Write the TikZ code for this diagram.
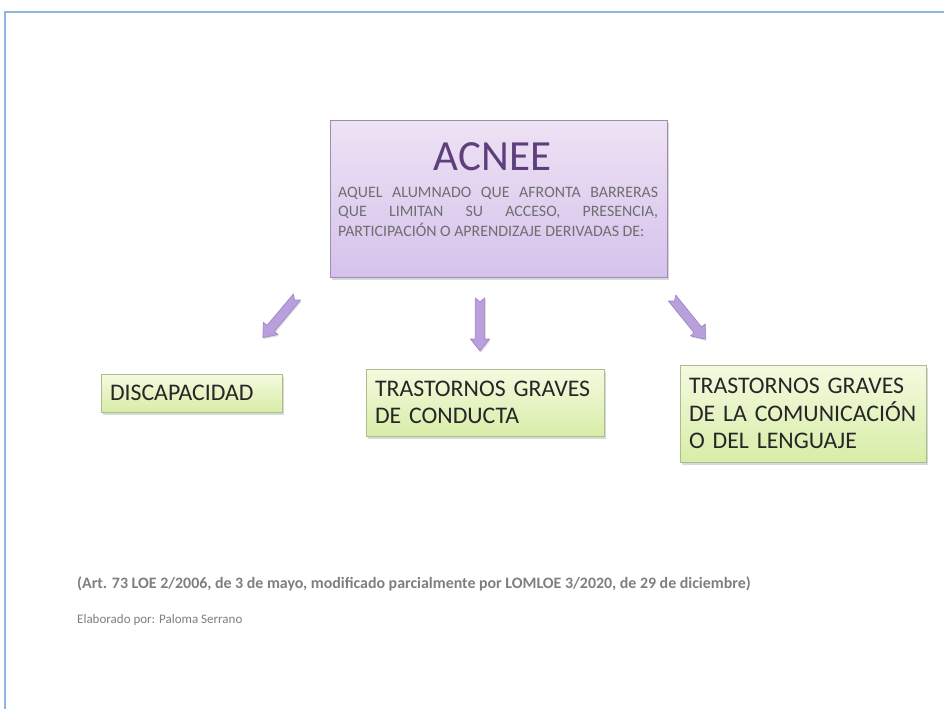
\documentclass[tikz,border=0pt]{standalone}
\usepackage{fontspec}
\setmainfont{Carlito}
\usepackage{tikz}
\usetikzlibrary{positioning}
\usetikzlibrary{shadows}

\definecolor{FrameBlue}{HTML}{8EB4E3}
\definecolor{LilacTop}{HTML}{EEE2F4}
\definecolor{LilacBot}{HTML}{D5C2EC}
\definecolor{LilacEdge}{HTML}{9C8EAE}
\definecolor{TitlePurple}{HTML}{5E3F7C}
\definecolor{BodyGrey}{HTML}{6E6E6E}
\definecolor{LimeTop}{HTML}{F4FADF}
\definecolor{LimeBot}{HTML}{D8EDA8}
\definecolor{LimeEdge}{HTML}{A9BD8E}
\definecolor{ArrowLilac}{HTML}{B9A0DD}
\definecolor{ArrowEdge}{HTML}{9F86C6}
\definecolor{NoteGrey}{HTML}{7F7F7F}

\newcommand{\fullline}[1]{\makebox[320pt][s]{#1}}

\tikzset{
  mainbox/.style={draw=LilacEdge, line width=1pt, top color=LilacTop, bottom color=LilacBot,
    drop shadow={opacity=0.3, shadow xshift=2pt, shadow yshift=-3pt}},
  greenbox/.style={draw=LimeEdge, line width=0.8pt, top color=LimeTop, bottom color=LimeBot,
    drop shadow={opacity=0.3, shadow xshift=2pt, shadow yshift=-3pt},
    inner xsep=9pt, inner ysep=0pt, align=left, text=black!85,
    font=\fontsize{23.8}{27.5}\selectfont},
  fatarrow/.pic={
    \path[fill=ArrowLilac, draw=ArrowEdge, line width=0.7pt, line join=round,
      drop shadow={opacity=0.25, shadow xshift=1pt, shadow yshift=-1.5pt}]
      (0,-4.7) -- (41,-4.7) -- (41,-9.5) -- (53,0) -- (41,9.5) -- (41,4.7)
      -- (0,4.7) -- (4,0) -- cycle;}
}

\begin{document}
\begin{tikzpicture}[x=1pt,y=-1pt]
\useasboundingbox (0,0) rectangle (944,709);
\fill[white] (0,0) rectangle (944,709);
\draw[color=FrameBlue,line width=2pt] (5,709) -- (5,12) -- (944,12);

\node[mainbox, minimum width=337pt, minimum height=157pt] (acnee) at (498.5,198.5) {};
\node[anchor=base, text=TitlePurple, font=\fontsize{43}{43}\selectfont, inner sep=0pt] (title) at (492.5,170) {ACNEE};
\node[anchor=base west, text=BodyGrey, inner sep=0pt,
  font=\fontsize{15.9}{19.5}\selectfont] (body) at (338,197)
{\parbox[t]{320pt}{\fullline{AQUEL ALUMNADO QUE AFRONTA BARRERAS}\\
\fullline{QUE LIMITAN SU ACCESO, PRESENCIA,}\\
PARTICIPACIÓN O APRENDIZAJE DERIVADAS DE:}};

\pic[rotate=-130] at (297,297) {fatarrow};
\pic[rotate=-90] at (480,298) {fatarrow};
\pic[rotate=-51] at (672,298) {fatarrow};

\node[greenbox, text width=163pt, minimum height=38pt] (disc) at (191.5,393) {DISCAPACIDAD};
\node[greenbox, text width=220pt, minimum height=67pt] (cond) at (485,402.5) {TRASTORNOS GRAVES\\DE CONDUCTA};
\node[greenbox, text width=228pt, minimum height=97pt] (lang) at (803,413.5) {TRASTORNOS GRAVES\\DE LA COMUNICACIÓN\\O DEL LENGUAJE};

\node[anchor=base west, inner sep=0pt, text=NoteGrey, font=\fontsize{15.9}{18}\selectfont\bfseries] (art) at (77,588)
{(Art. 73 LOE 2/2006, de 3 de mayo, modificado parcialmente por LOMLOE 3/2020, de 29 de diciembre)};
\node[anchor=base west, inner sep=0pt, text=NoteGrey, font=\fontsize{13}{15}\selectfont] (autor) at (77,623)
{Elaborado por: Paloma Serrano};
\end{tikzpicture}
\end{document}
